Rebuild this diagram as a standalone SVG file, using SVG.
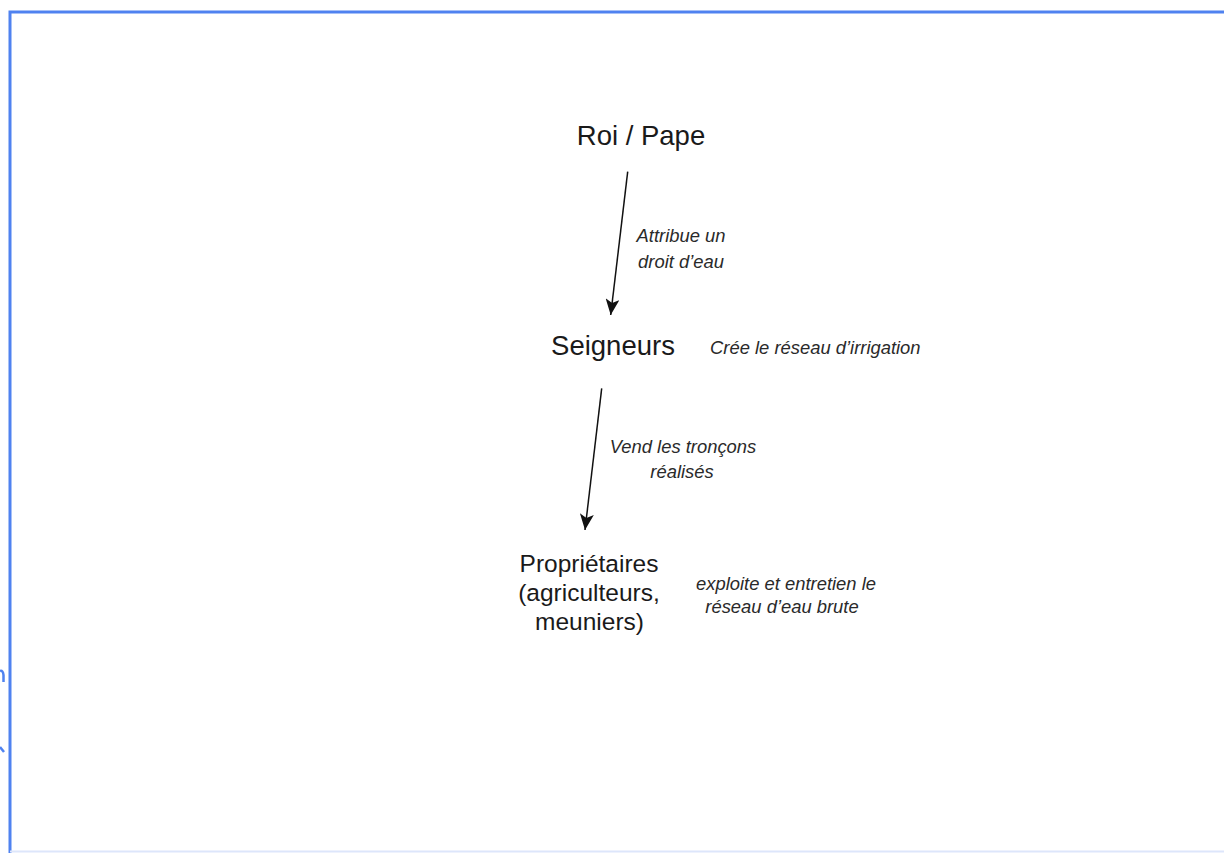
<svg xmlns="http://www.w3.org/2000/svg" width="1224" height="853" viewBox="0 0 1224 853">
  <style>
    .node { font-family: "Liberation Sans", Arial, sans-serif; font-size: 27.5px; fill: #1a1a1a; text-anchor: middle; }
    .node-sm { font-family: "Liberation Sans", Arial, sans-serif; font-size: 24.5px; fill: #1a1a1a; text-anchor: middle; }
    .note { font-family: "Liberation Sans", Arial, sans-serif; font-size: 18.4px; font-style: italic; fill: #2a2a2a; }
    .frame { stroke: #4f82f0; stroke-width: 3; fill: none; }
    .conn { stroke: #111; stroke-width: 1.5; fill: none; marker-end: url(#arrow); }
  </style>
  <defs>
    <marker id="arrow" viewBox="0 0 16 14" refX="16" refY="7" markerWidth="16" markerHeight="14" markerUnits="userSpaceOnUse" orient="auto">
      <path d="M0,0 L16,7 L0,14 L4,7 z" fill="#111"/>
    </marker>
  </defs>
  <rect x="0" y="0" width="1224" height="853" fill="#ffffff"/>
  <g id="frame">
    <path class="frame" d="M10,853 L10,12 L1224,12"/>
    <line x1="10" y1="851.5" x2="1224" y2="851.5" stroke="#dde6fb" stroke-width="2"/>
    <path d="M0,671 Q3,670 3.5,675 L3.5,682" stroke="#4f82f0" stroke-width="2.5" fill="none"/>
    <path d="M0,747 L4,752" stroke="#4f82f0" stroke-width="2.5" fill="none"/>
  </g>
  <g id="connectors">
    <line class="conn" x1="627.7" y1="171.7" x2="610.7" y2="315"/>
    <line class="conn" x1="601.7" y1="388.3" x2="585" y2="530"/>
  </g>
  <g id="label-attribue">
    <text class="note" x="681" y="242" text-anchor="middle">Attribue un</text>
    <text class="note" x="681" y="268" text-anchor="middle">droit d’eau</text>
  </g>
  <g id="label-vend">
    <text class="note" x="683" y="453" text-anchor="middle">Vend les tronçons</text>
    <text class="note" x="682" y="478" text-anchor="middle">réalisés</text>
  </g>
  <g id="node-roi">
    <text class="node" x="641" y="145">Roi / Pape</text>
  </g>
  <g id="node-seigneurs">
    <text class="node" x="613" y="355">Seigneurs</text>
    <text class="note" x="710" y="354">Crée le réseau d’irrigation</text>
  </g>
  <g id="node-proprietaires">
    <text class="node-sm" x="589" y="572">Propriétaires</text>
    <text class="node-sm" x="589" y="601">(agriculteurs,</text>
    <text class="node-sm" x="589.5" y="630">meuniers)</text>
    <text class="note" x="786" y="590" text-anchor="middle">exploite et entretien le</text>
    <text class="note" x="782" y="613" text-anchor="middle">réseau d’eau brute</text>
  </g>
</svg>
